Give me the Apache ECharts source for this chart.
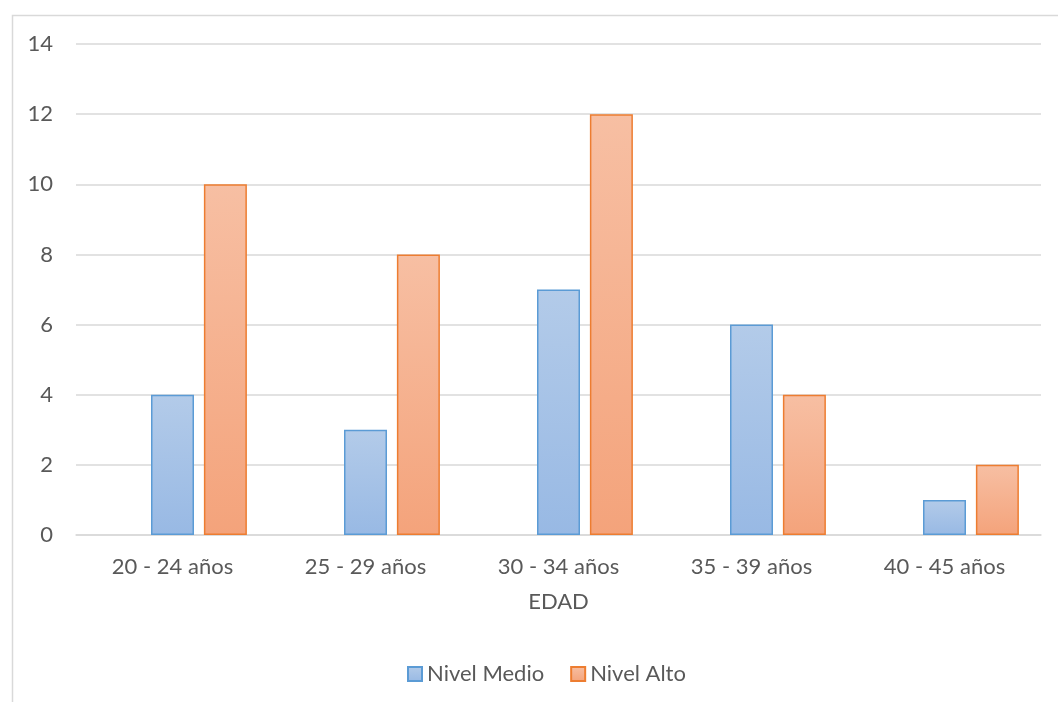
<!DOCTYPE html>
<html>
<head>
<meta charset="utf-8">
<script src="https://cdn.jsdelivr.net/npm/echarts@6/dist/echarts.min.js"></script>
<style>
  html, body { margin: 0; padding: 0; background: #fff; }
  #chart { width: 1058px; height: 702px; }
</style>
</head>
<body>
<div id="chart"></div>
<script>
// Age groups and counts per level
const categories = ['20 - 24 años', '25 - 29 años', '30 - 34 años', '35 - 39 años', '40 - 45 años'];
const nivelBajo = [0, 0, 0, 0, 0];
const nivelMedio = [4, 3, 7, 6, 1];
const nivelAlto = [10, 8, 12, 4, 2];
const seriesNames = ['Nivel Bajo', 'Nivel Medio', 'Nivel Alto'];

const font = 'Lato, "Open Sans", sans-serif';
const textColor = '#595959';

function grad(top, bottom) {
  return new echarts.graphic.LinearGradient(0, 0, 0, 1, [
    { offset: 0, color: top },
    { offset: 1, color: bottom }
  ]);
}

const chart = echarts.init(document.getElementById('chart'));
chart.setOption({
  animation: false,
  backgroundColor: '#ffffff',
  textStyle: { fontFamily: font },
  graphic: [{
    type: 'rect',
    shape: { x: 12.5, y: 15.5, width: 1100, height: 800 },
    style: { fill: 'none', stroke: '#d9d9d9', lineWidth: 1.5 },
    silent: true
  }],
  grid: { left: 76, right: 17, top: 44, bottom: 167 },
  legend: {
    top: 663,
    left: 407,
    padding: 0,
    itemWidth: 14,
    itemHeight: 14,
    itemGap: 26,
    icon: 'rect',
    textStyle: { color: textColor, fontSize: 22, fontFamily: font },
    data: [seriesNames[1], seriesNames[2]]
  },
  xAxis: {
    type: 'category',
    data: categories,
    name: 'EDAD',
    nameLocation: 'middle',
    nameGap: 56,
    nameTextStyle: { color: textColor, fontSize: 22, fontFamily: font },
    axisLine: { show: true, lineStyle: { color: '#d9d9d9', width: 1.5 } },
    axisTick: { show: false },
    axisLabel: { color: textColor, fontSize: 22, margin: 21, fontFamily: font }
  },
  yAxis: {
    type: 'value',
    min: 0,
    max: 14,
    interval: 2,
    axisLine: { show: false },
    axisTick: { show: false },
    axisLabel: { color: textColor, fontSize: 22, margin: 23, fontFamily: font },
    splitLine: { lineStyle: { color: '#d9d9d9', width: 1.5 } }
  },
  series: [
    {
      name: seriesNames[0],
      type: 'bar',
      data: nivelBajo,
      barWidth: 43,
      barGap: '23%',
      itemStyle: { color: 'rgba(0,0,0,0)', borderWidth: 0 }
    },
    {
      name: seriesNames[1],
      type: 'bar',
      data: nivelMedio,
      barWidth: 43,
      barGap: '23%',
      itemStyle: {
        color: grad('#b3cbe9', '#98b9e4'),
        borderColor: '#5b9bd5',
        borderWidth: 1.5
      }
    },
    {
      name: seriesNames[2],
      type: 'bar',
      data: nivelAlto,
      barWidth: 43,
      barGap: '23%',
      itemStyle: {
        color: grad('#f7bfa3', '#f4a37b'),
        borderColor: '#ed7d31',
        borderWidth: 1.5
      }
    }
  ]
});
</script>
</body>
</html>
